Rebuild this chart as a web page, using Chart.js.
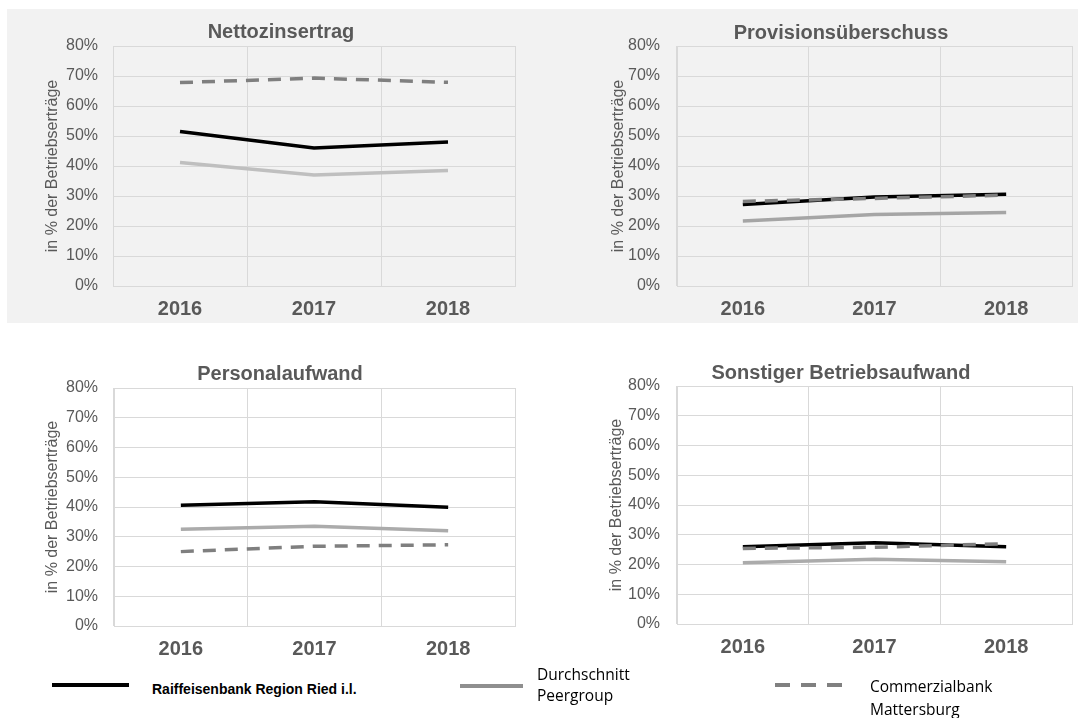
<!DOCTYPE html>
<html>
<head>
<meta charset="utf-8">
<script src="https://cdn.jsdelivr.net/npm/chart.js@4/dist/chart.umd.min.js"></script>
<style>
  html, body { margin: 0; padding: 0; background: #ffffff; }
  body { width: 1078px; height: 718px; position: relative; overflow: hidden; font-family: "Liberation Sans", Arial, sans-serif; }
  .graybg { position: absolute; left: 7px; top: 9px; width: 1071px; height: 314px; background: #f2f2f2; }
  .cv { position: absolute; }
  .title { position: absolute; transform: translate(-50%, -50%); white-space: nowrap; font: bold 20px "Liberation Sans", Arial, sans-serif; color: #595959; }
  .lg { position: absolute; white-space: nowrap; }
  .lgtxt { position: absolute; white-space: nowrap; transform: translateY(-50%); color: #000; }
  .calib { font: 15.5px "Open Sans", "Noto Sans", sans-serif; }
</style>
</head>
<body>
<div class="graybg"></div>

<canvas id="c1" class="cv" style="left:7px;top:9px;width:531px;height:314px" width="531" height="314"></canvas>
<canvas id="c2" class="cv" style="left:538px;top:9px;width:540px;height:314px" width="540" height="314"></canvas>
<canvas id="c3" class="cv" style="left:0px;top:340px;width:538px;height:330px" width="538" height="330"></canvas>
<canvas id="c4" class="cv" style="left:538px;top:340px;width:540px;height:330px" width="540" height="330"></canvas>

<div class="title" style="left:281px;top:31px">Nettozinsertrag</div>
<div class="title" style="left:841px;top:32px">Provisionsüberschuss</div>
<div class="title" style="left:280px;top:373px">Personalaufwand</div>
<div class="title" style="left:841px;top:372px">Sonstiger Betriebsaufwand</div>

<!-- Legend -->
<div class="lg" style="left:52px;top:683px;width:77px;height:4px;background:#000"></div>
<div class="lgtxt" style="left:152px;top:689px;font:bold 14px 'Liberation Sans', Arial, sans-serif">Raiffeisenbank Region Ried i.l.</div>

<div class="lg" style="left:460px;top:684px;width:63px;height:4px;background:#8f8f8f"></div>
<div class="lgtxt calib" style="left:537px;top:674px">Durchschnitt</div>
<div class="lgtxt calib" style="left:537px;top:695px">Peergroup</div>

<div class="lg" style="left:775px;top:683px;width:15px;height:4px;background:#808080"></div>
<div class="lg" style="left:801px;top:683px;width:15px;height:4px;background:#808080"></div>
<div class="lg" style="left:827px;top:683px;width:15px;height:4px;background:#808080"></div>
<div class="lgtxt calib" style="left:870px;top:686px">Commerzialbank</div>
<div class="lgtxt calib" style="left:870px;top:709px">Mattersburg</div>

<script>
// ---- Data ----
const years = ['2016', '2017', '2018'];
const yTicks = [0, 10, 20, 30, 40, 50, 60, 70, 80];

const nettoRaiffeisen = [51.5, 46.0, 48.0];
const nettoPeer       = [41.2, 37.0, 38.5];
const nettoCommerz    = [67.8, 69.3, 67.9];

const provRaiffeisen = [27.2, 29.7, 30.6];
const provPeer       = [21.7, 23.8, 24.5];
const provCommerz    = [28.2, 29.2, 30.3];

const persRaiffeisen = [40.6, 41.8, 39.9];
const persPeer       = [32.5, 33.5, 32.0];
const persCommerz    = [25.0, 26.8, 27.3];

const sonstRaiffeisen = [26.0, 27.3, 26.0];
const sonstPeer       = [20.6, 21.8, 20.9];
const sonstCommerz    = [25.4, 25.8, 27.0];

const seriesNames = ['Raiffeisenbank Region Ried i.l.', 'Durchschnitt Peergroup', 'Commerzialbank Mattersburg'];
const yAxisTitle = 'in % der Betriebserträge';

// ---- Chart factory ----
const FONT = '"Liberation Sans", Arial, sans-serif';

function makeChart(id, r, p, c, geo) {
  const ctx = document.getElementById(id);
  return new Chart(ctx, {
    type: 'line',
    data: {
      labels: years,
      datasets: [
        { label: seriesNames[2], data: c, borderColor: '#7f7f7f', borderWidth: 3.5, borderDash: [13, 9], pointRadius: 0, tension: 0 },
        { label: seriesNames[1], data: p, borderColor: geo.peerColor, borderWidth: 3.5, pointRadius: 0, tension: 0 },
        { label: seriesNames[0], data: r, borderColor: '#000000', borderWidth: 3.5, pointRadius: 0, tension: 0 }
      ]
    },
    options: {
      responsive: false,
      animation: false,
      events: [],
      layout: { padding: { top: geo.top, right: geo.right, left: 0, bottom: 0 } },
      plugins: { legend: { display: false }, title: { display: false }, tooltip: { enabled: false } },
      scales: {
        x: {
          type: 'category',
          offset: true,
          grid: { offset: true, color: '#d9d9d9', lineWidth: 1, drawTicks: false },
          border: { display: true, color: '#d9d9d9' },
          ticks: { color: '#595959', font: { family: FONT, size: 20, weight: 'bold' }, padding: 11, maxRotation: 0 },
          afterFit: s => { s.height = geo.xh; }
        },
        y: {
          min: 0, max: 80,
          afterBuildTicks: s => { s.ticks = yTicks.map(v => ({ value: v })); },
          grid: { color: '#d9d9d9', lineWidth: 1, drawTicks: false },
          border: { display: true, color: '#d9d9d9' },
          ticks: { color: '#595959', font: { family: FONT, size: 16 }, padding: geo.tp, callback: v => v + '%' },
          title: { display: true, text: yAxisTitle, color: '#595959', font: { family: FONT, size: 16 }, padding: { top: geo.tt, bottom: 0 } },
          afterFit: s => { s.width = geo.yw; }
        }
      }
    }
  });
}

makeChart('c1', nettoRaiffeisen, nettoPeer, nettoCommerz, { top: 37, right: 23, xh: 37, yw: 106, tp: 15, tt: 36, peerColor: '#bfbfbf' });
makeChart('c2', provRaiffeisen, provPeer, provCommerz, { top: 37, right: 6, xh: 37, yw: 139, tp: 17, tt: 71, peerColor: '#a5a5a5' });
makeChart('c3', persRaiffeisen, persPeer, persCommerz, { top: 48, right: 23, xh: 44, yw: 114, tp: 16, tt: 43, peerColor: '#ababab' });
makeChart('c4', sonstRaiffeisen, sonstPeer, sonstCommerz, { top: 46, right: 6, xh: 46, yw: 139, tp: 17, tt: 69, peerColor: '#ababab' });
</script>
</body>
</html>
